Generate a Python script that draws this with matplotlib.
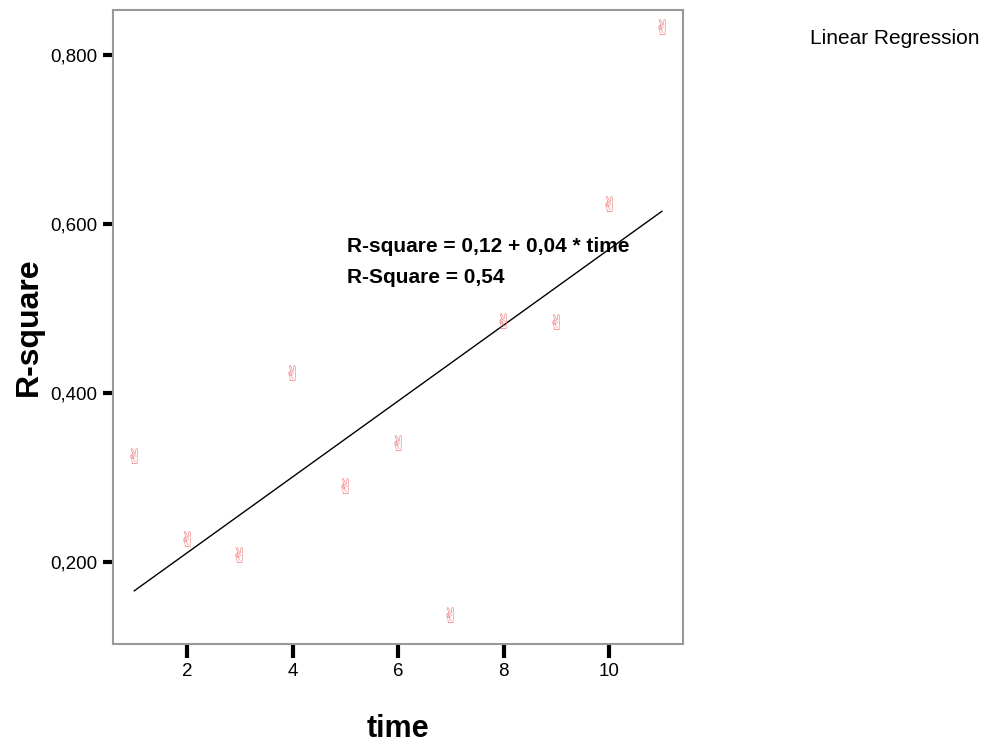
import matplotlib
matplotlib.use("Agg")
import matplotlib.pyplot as plt
import matplotlib.transforms as mtransforms
import numpy as np

plt.rcParams['font.family'] = ['Liberation Sans', 'DejaVu Sans']

time = [1, 2, 3, 4, 5, 6, 7, 8, 9, 10, 11]
r_square = [0.327, 0.228, 0.210, 0.425, 0.291, 0.342, 0.138, 0.486, 0.485, 0.625, 0.834]
fit_intercept = 0.121
fit_slope = 0.0449
fit_x = [1, 11]
x_ticks = [2, 4, 6, 8, 10]
y_ticks = [0.2, 0.4, 0.6, 0.8]
y_tick_labels = ['0,200', '0,400', '0,600', '0,800']
eq_text = 'R-square = 0,12 + 0,04 * time'
r2_text = 'R-Square = 0,54'

fig = plt.figure(figsize=(9.92, 7.47), dpi=100)
ax = fig.add_axes([113/992, 1-644/747, 570/992, 634/747])
ax.set_xlim(0.597, 11.40)
ax.set_ylim(0.103, 0.853)

for s in ax.spines.values():
    s.set_color('#999999')
    s.set_linewidth(1.5)

# points drawn as victory-hand glyph markers
mk_trans = mtransforms.offset_copy(ax.transData, fig=fig, x=0, y=-3, units='dots')
for xv, yv in zip(time, r_square):
    ax.text(xv, yv, '\u270c', color='#f08080', fontsize=15, ha='center', va='center',
            family=['DejaVu Sans'], transform=mk_trans)

fx = np.array(fit_x, dtype=float)
ax.plot(fx, fit_intercept + fit_slope * fx, color='black', lw=1.0)

ax.set_xticks(x_ticks)
ax.set_xticklabels([str(t) for t in x_ticks])
ax.set_yticks(y_ticks)
ax.set_yticklabels(y_tick_labels)
ax.tick_params(axis='x', direction='out', length=10, width=3, color='black',
               labelsize=13.5, pad=4)
ax.tick_params(axis='y', direction='out', length=7, width=3, color='black',
               labelsize=13.5, pad=4)

ax.set_xlabel('time', fontsize=22, fontweight='bold', labelpad=24)
ax.set_ylabel('R-square', fontsize=23, fontweight='bold', labelpad=5)

ax.text(5.03, 0.573, eq_text, fontsize=15, fontweight='bold', ha='left', va='center')
ax.text(5.03, 0.536, r2_text, fontsize=15, fontweight='bold', ha='left', va='center')

fig.text(810/992, 1-38/747, 'Linear Regression', fontsize=15, ha='left', va='center')

fig.savefig('out.png', dpi=100)
